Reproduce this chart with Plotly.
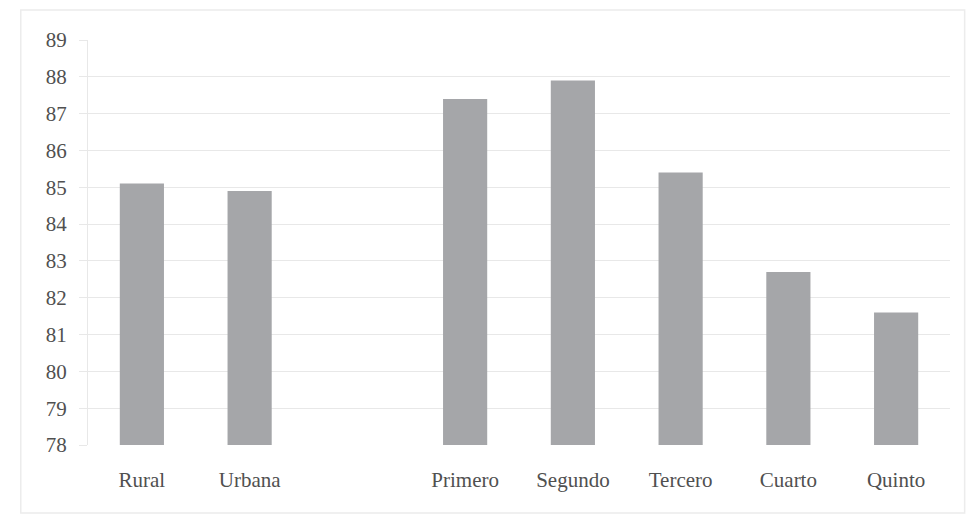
import plotly.graph_objects as go

categories = ["Rural", "Urbana", " ", "Primero", "Segundo", "Tercero", "Cuarto", "Quinto"]
values = [85.1, 84.9, None, 87.4, 87.9, 85.4, 82.7, 81.6]
y_ticks = list(range(78, 90))

fig = go.Figure(
    go.Bar(
        x=categories,
        y=values,
        marker=dict(color="#a5a6a9", line=dict(width=0)),
        width=0.41,
    )
)

font_family = "Liberation Serif"
fig.update_layout(
    width=972,
    height=516,
    margin=dict(l=88, r=22, t=40, b=71),
    paper_bgcolor="white",
    plot_bgcolor="white",
    showlegend=False,
    font=dict(family=font_family, color="#505050", size=20),
)
fig.update_xaxes(
    type="category",
    categoryorder="array",
    categoryarray=categories,
    showgrid=False,
    showline=False,
    ticks="",
    tickfont=dict(size=21, family=font_family, color="#505050"),
    ticklabelstandoff=20,
)
fig.update_yaxes(
    range=[78, 89],
    tickvals=y_ticks,
    showgrid=True,
    gridcolor="#e8e8e8",
    gridwidth=1,
    showline=True,
    linecolor="#e8e8e8",
    ticks="outside",
    ticklen=8,
    tickcolor="#e8e8e8",
    zeroline=False,
    tickfont=dict(size=21, family=font_family, color="#505050"),
    ticklabelstandoff=8,
)
fig.add_shape(
    type="rect", xref="paper", yref="paper",
    x0=-0.078, x1=1.017, y0=-0.168, y1=1.074,
    line=dict(color="#ececec", width=1.5),
    fillcolor="rgba(0,0,0,0)",
)
fig.write_html(
    "out.html",
    config={"displayModeBar": False},
    post_script="document.body.style.margin='0px';",
)
